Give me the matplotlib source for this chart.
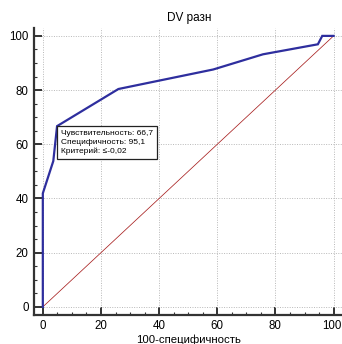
import matplotlib
matplotlib.use("Agg")
import matplotlib.pyplot as plt
from matplotlib.ticker import MultipleLocator
from matplotlib.transforms import ScaledTranslation

plt.rcParams['font.family'] = ['Liberation Sans', 'DejaVu Sans']

# ROC curve points: 100-specificity (x) vs sensitivity (y)
fpr = [0, 0, 3.6, 4.9, 26.0, 58.6, 75.7, 94.6, 96.1, 100]
tpr = [0, 41.9, 53.8, 66.7, 80.4, 87.6, 93.2, 96.9, 100, 100]

# Optimal cut-off point
opt_sens = 66.7
opt_spec = 95.1
opt_crit = "≤-0,02"

title = "DV разн"
xlabel = "100-специфичность"
ticks = [0, 20, 40, 60, 80, 100]

fig = plt.figure(figsize=(3.42, 3.44), dpi=100)
ax = fig.add_axes([0.098, 0.0843, 0.908, 0.835])

ax.plot([0, 100], [0, 100], color='#a82020', lw=0.55, zorder=2)
ax.plot(fpr, tpr, color='#2e2e9e', lw=1.6, zorder=3, solid_joinstyle='miter')

ax.set_xlim(-3.2, 103.6)
ax.set_ylim(-3.0, 103.0)
ax.set_xticks(ticks)
ax.set_yticks(ticks)
ax.xaxis.set_minor_locator(MultipleLocator(5))
ax.yaxis.set_minor_locator(MultipleLocator(5))

ax.grid(True, which='major', color='#b8b8b8', lw=0.7, linestyle=(0, (1, 1.5)))
ax.set_axisbelow(True)

for s in ['top', 'right']:
    ax.spines[s].set_visible(False)
for s in ['left', 'bottom']:
    ax.spines[s].set_linewidth(1.6)
    ax.spines[s].set_color('#333333')

ax.tick_params(which='major', direction='in', length=6, width=1.4, color='#333333',
               labelsize=8.3, pad=3.5)
ax.tick_params(which='minor', direction='in', length=2.5, width=0.8, color='#333333')

# keep the last x tick label inside the figure edge
last = ax.get_xticklabels()[-1]
last.set_horizontalalignment('right')
last.set_transform(last.get_transform() + ScaledTranslation(6 / 72, 0, fig.dpi_scale_trans))

ax.set_title(title, fontsize=8.5, pad=5)
ax.set_xlabel(xlabel, fontsize=8.2, labelpad=2)

label = (f"Чувствительность: {opt_sens:.1f}".replace('.', ',') + "\n" +
         f"Специфичность: {opt_spec:.1f}".replace('.', ',') + "\n" +
         f"Критерий: {opt_crit}")
fs = 6.0
pad = 0.45
ax.annotate(label, xy=(100 - opt_spec, opt_sens), xytext=(pad * fs, -pad * fs),
            textcoords='offset points', ha='left', va='top', fontsize=fs,
            linespacing=1.35, zorder=5,
            bbox=dict(boxstyle=f'square,pad={pad}', fc='white', ec='#222222', lw=0.9))

fig.savefig('out.png', dpi=100)
